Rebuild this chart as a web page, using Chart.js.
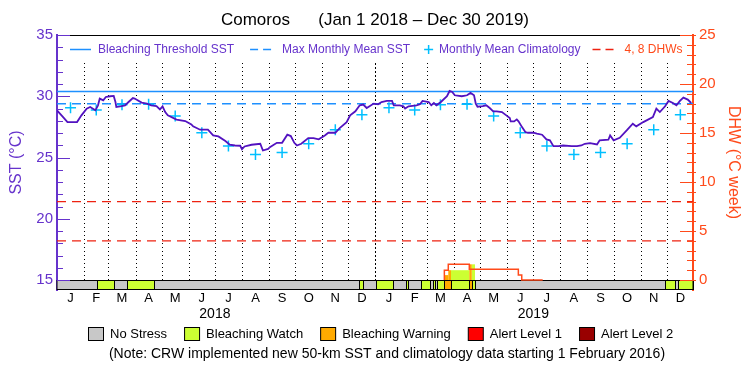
<!DOCTYPE html>
<html>
<head>
<meta charset="utf-8">
<script src="https://cdn.jsdelivr.net/npm/chart.js@4.4.0/dist/chart.umd.min.js"></script>
<style>
  html, body { margin: 0; padding: 0; background: #fff; }
</style>
</head>
<body>
<canvas id="crwChart" width="750" height="375"></canvas>
<script>
// days counted from Jan 1 2018
const sstDays = [0, 7, 12, 23, 28, 34, 38, 44, 47, 49, 53, 56, 61, 65, 67, 68, 74, 78, 82, 87, 89, 97, 103, 108, 114, 118,
  121, 124, 127, 137, 147, 154, 156, 164, 173, 179, 185, 193, 198, 204, 210, 212, 215, 223, 233, 236, 242,
  244, 252, 258, 264, 268, 272, 275, 280, 288, 294, 300, 307, 311, 319, 324, 332, 336, 342, 347, 351, 355, 363,
  368, 372, 378, 384, 386, 393, 397, 399, 403, 412, 416, 419, 426, 429, 432, 435, 440, 447, 450, 453, 456, 464, 470, 474, 478, 480, 482,
  488, 492, 496, 500, 504, 510, 515, 519, 520, 524, 527, 529, 533, 537, 540, 546, 550, 556, 561, 565, 569, 575, 580, 590, 596, 601,
  605, 611, 619, 622, 632, 634, 638, 645, 653, 660, 664, 672, 683, 687, 691, 697, 701, 706, 710, 714, 718, 723, 727];
const sstVals = [28.85, 28.30, 27.89, 27.89, 28.44, 28.99, 29.12, 28.85, 29.26, 29.81, 29.67, 29.94, 30.0, 30.03, 29.53, 29.12, 29.2, 29.26, 29.53, 29.86, 29.81, 29.48, 29.4, 29.26, 29.2, 28.93,
  29.18, 28.71, 28.44, 28.09, 27.98, 27.7, 27.54, 27.27, 27.27, 26.8, 26.72, 26.34, 26.04, 25.98, 25.96, 25.68, 25.9, 26.04, 26.12, 25.57, 25.7,
  25.84, 26.2, 26.2, 26.86, 26.75, 26.2, 25.98, 26.12, 26.58, 26.58, 26.48, 26.8, 27.02, 27.02, 27.4, 27.89, 28.44, 28.77, 29.26, 29.32, 29.04, 29.4,
  29.34, 29.53, 29.62, 29.62, 29.26, 29.26, 29.18, 28.99, 29.18, 29.26, 29.34, 29.62, 29.53, 29.26, 29.45, 29.26, 29.53, 30.0, 30.43, 30.35, 30.08, 30.0, 30.08, 30.27, 30.08, 29.4, 29.15,
  29.2, 29.26, 29.04, 28.77, 28.77, 28.71, 28.44, 28.22, 27.95, 27.95, 28.11, 27.95, 27.48, 27.07, 27.02, 27.02, 26.94, 26.86, 26.48, 26.4, 25.93, 25.93, 25.98, 25.93, 25.93, 25.98,
  26.12, 26.17, 26.07, 26.4, 26.45, 26.8, 26.4, 26.61, 27.21, 27.76, 27.54, 27.89, 28.3, 28.99, 28.71, 29.18, 29.62, 29.45, 29.26, 29.62, 29.89, 29.73, 29.45];

const monthStarts = [0, 31, 59, 90, 120, 151, 181, 212, 243, 273, 304, 334,
  365, 396, 424, 455, 485, 516, 546, 577, 608, 638, 669, 699, 730];
const monthLabels = ['J', 'F', 'M', 'A', 'M', 'J', 'J', 'A', 'S', 'O', 'N', 'D',
  'J', 'F', 'M', 'A', 'M', 'J', 'J', 'A', 'S', 'O', 'N', 'D'];
const yearTicks = [181, 546];
const yearLabels = ['2018', '2019'];

const climVals = [29.07, 28.88, 29.3, 29.35, 28.39, 27.02, 25.93, 25.25, 25.41, 26.12, 27.27, 28.5];
const mmm = 29.38;
const threshold = mmm + 1;
const dhwLevels = [4, 8];

const dhwDays = [444, 444, 448.5, 472.6, 528.8, 532.7, 556.7];
const dhwVals = [0, 0.5, 1.0, 1.6, 1.1, 0.5, 0];

const watchFrom = [45.5, 79.9, 346.5, 365.3, 399.7, 416.9, 430.7, 435.9, 451.6, 475.4, 697, 711.5];
const watchTo = [65.7, 111.5, 350.2, 385.5, 402.7, 427.6, 433.3, 444, 472.6, 479.1, 708.5, 729];
const warnFrom = [444, 472.6];
const warnTo = [451.6, 475.4];

const sstTicks = [15, 16, 17, 18, 19, 20, 21, 22, 23, 24, 25, 26, 27, 28, 29, 30, 31, 32, 33, 34, 35];
const dhwTicks = [0, 1, 2, 3, 4, 5, 6, 7, 8, 9, 10, 11, 12, 13, 14, 15, 16, 17, 18, 19, 20, 21, 22, 23, 24, 25];

const FONT = "'Liberation Sans', Arial, sans-serif";
const PURPLE = '#6633cc';
const LINEPURPLE = '#5212c0';
const ORANGE = '#ff4a1a';
const BLUE = '#1e90ff';
const CYAN = '#00bfff';
const GRAY = '#c8c8c8', GREEN = '#ccff33', AMBER = '#ffaa00', RED = '#ff0000', DARKRED = '#990000';

const monthMid = [];
for (let i = 0; i < monthStarts.length - 1; i++) monthMid.push((monthStarts[i] + monthStarts[i + 1]) / 2);
const climDays = monthMid;
const climAll = climVals.concat(climVals);

function pts(xs, ys) { return xs.map((d, i) => ({ x: d, y: ys[i] })); }

const stripPlugin = {
  id: 'strip',
  beforeDatasetsDraw(chart) {
    const { ctx, chartArea: a, scales } = chart;
    const xs = scales.x, ys = scales.ySST, yd = scales.yDHW;
    ctx.save();
    // dotted month lines
    const yTop = a.top + 28, yBot = ys.getPixelForValue(15);
    ctx.strokeStyle = '#000';
    ctx.lineWidth = 1;
    for (let i = 1; i < monthStarts.length - 1; i++) {
      const px = Math.round(xs.getPixelForValue(monthStarts[i])) + 0.5;
      ctx.setLineDash(monthStarts[i] === 365 ? [2, 2] : [1, 3]);
      ctx.beginPath(); ctx.moveTo(px, yTop); ctx.lineTo(px, yBot); ctx.stroke();
    }
    ctx.setLineDash([]);
    // fill under DHW during stress
    const fillDhw = (from, to, color) => {
      for (let i = 0; i < dhwDays.length - 1; i++) {
        const lo = Math.max(from, dhwDays[i]), hi = Math.min(to, dhwDays[i + 1]);
        if (hi <= lo || dhwVals[i] <= 0) continue;
        const x0 = xs.getPixelForValue(lo), x1 = xs.getPixelForValue(hi);
        const y0 = yd.getPixelForValue(0), y1 = yd.getPixelForValue(dhwVals[i]);
        ctx.fillStyle = color;
        ctx.fillRect(x0, y1, x1 - x0, y0 - y1);
      }
    };
    watchFrom.forEach((f, i) => fillDhw(f, watchTo[i], GREEN));
    warnFrom.forEach((f, i) => fillDhw(f, warnTo[i], AMBER));
    // stress strip
    const sTop = Math.round(ys.getPixelForValue(15)) + 0.5, sBot = Math.round(a.bottom) - 0.5;
    ctx.fillStyle = GRAY;
    ctx.fillRect(a.left, sTop, a.right - a.left, sBot - sTop);
    ctx.lineWidth = 1;
    ctx.strokeStyle = '#000';
    const seg = (f, t, color) => {
      const x0 = Math.round(xs.getPixelForValue(f)) + 0.5, x1 = Math.round(xs.getPixelForValue(t)) + 0.5;
      ctx.fillStyle = color;
      ctx.fillRect(x0, sTop, x1 - x0, sBot - sTop);
      ctx.strokeRect(x0, sTop, x1 - x0, sBot - sTop);
    };
    watchFrom.forEach((f, i) => seg(f, watchTo[i], GREEN));
    warnFrom.forEach((f, i) => seg(f, warnTo[i], AMBER));
    ctx.strokeRect(a.left, sTop, a.right - a.left, sBot - sTop);
    ctx.restore();
  },
  afterDatasetsDraw(chart) {
    const { ctx, chartArea: a, scales } = chart;
    ctx.save();
    // top frame
    ctx.strokeStyle = '#000'; ctx.lineWidth = 1;
    ctx.beginPath(); ctx.moveTo(a.left, Math.round(a.top) + 0.5); ctx.lineTo(a.right, Math.round(a.top) + 0.5); ctx.stroke();
    // inward tick marks
    ctx.strokeStyle = PURPLE;
    sstTicks.forEach(v => {
      const py = Math.round(scales.ySST.getPixelForValue(v)) + 0.5;
      const len = v % 5 === 0 ? 13 : 6;
      ctx.beginPath(); ctx.moveTo(a.left, py); ctx.lineTo(a.left + len, py); ctx.stroke();
    });
    ctx.strokeStyle = ORANGE;
    dhwTicks.forEach(v => {
      const py = Math.round(scales.yDHW.getPixelForValue(v)) + 0.5;
      const len = v % 5 === 0 ? 13 : 6;
      ctx.beginPath(); ctx.moveTo(a.right - len, py); ctx.lineTo(a.right + 3, py); ctx.stroke();
    });
    ctx.restore();
  },
  afterDraw(chart) {
    const { ctx, chartArea: a } = chart;
    ctx.save();
    ctx.textBaseline = 'middle';
    ctx.textAlign = 'left';
    // legend inside the plot
    ctx.font = '12px ' + FONT;
    let x = a.left + 13;
    const y = a.top + 14.5;
    ctx.lineWidth = 1.5;
    ctx.strokeStyle = BLUE;
    ctx.beginPath(); ctx.moveTo(x, y); ctx.lineTo(x + 21, y); ctx.stroke();
    x += 28;
    ctx.fillStyle = PURPLE;
    let t = 'Bleaching Threshold SST';
    ctx.fillText(t, x, y); x += ctx.measureText(t).width + 16;
    ctx.setLineDash([8, 5]);
    ctx.beginPath(); ctx.moveTo(x, y); ctx.lineTo(x + 26, y); ctx.stroke();
    ctx.setLineDash([]);
    x += 32;
    t = 'Max Monthly Mean SST';
    ctx.fillText(t, x, y); x += ctx.measureText(t).width + 14;
    ctx.strokeStyle = CYAN;
    ctx.beginPath(); ctx.moveTo(x, y); ctx.lineTo(x + 9, y); ctx.moveTo(x + 4.5, y - 4.5); ctx.lineTo(x + 4.5, y + 4.5); ctx.stroke();
    x += 15;
    t = 'Monthly Mean Climatology';
    ctx.fillText(t, x, y); x += ctx.measureText(t).width + 12;
    ctx.strokeStyle = '#ee2211';
    ctx.setLineDash([8, 5]);
    ctx.beginPath(); ctx.moveTo(x, y); ctx.lineTo(x + 26, y); ctx.stroke();
    ctx.setLineDash([]);
    x += 32;
    ctx.fillStyle = ORANGE;
    ctx.fillText('4, 8 DHWs', x, y);

    // stress legend below
    ctx.font = '13px ' + FONT;
    ctx.fillStyle = '#000';
    const items = [['No Stress', GRAY], ['Bleaching Watch', GREEN], ['Bleaching Warning', AMBER], ['Alert Level 1', RED], ['Alert Level 2', DARKRED]];
    let bx = 88;
    const by = 334;
    ctx.lineWidth = 1;
    ctx.strokeStyle = '#000';
    items.forEach(([label, color]) => {
      ctx.fillStyle = color;
      ctx.fillRect(bx + 0.5, by - 6.5, 15, 13);
      ctx.strokeRect(bx + 0.5, by - 6.5, 15, 13);
      ctx.fillStyle = '#000';
      ctx.fillText(label, bx + 22, by);
      bx += 22 + ctx.measureText(label).width + 17;
    });
    ctx.font = '14px ' + FONT;
    ctx.textAlign = 'center';
    ctx.fillText('(Note: CRW implemented new 50-km SST and climatology data starting 1 February 2016)', 387, 354);
    ctx.restore();
  }
};

new Chart('crwChart', {
  type: 'line',
  data: {
    datasets: [{
      data: pts(sstDays, sstVals),
      yAxisID: 'ySST',
      borderColor: LINEPURPLE,
      borderWidth: 1.8,
      pointRadius: 0
    }, {
      data: pts(climDays, climAll),
      yAxisID: 'ySST',
      showLine: false,
      pointStyle: 'cross',
      pointRadius: 5.5,
      pointBorderWidth: 1.5,
      borderColor: CYAN,
      backgroundColor: CYAN
    }, {
      data: pts([0, 729], [threshold, threshold]),
      yAxisID: 'ySST',
      borderColor: BLUE,
      borderWidth: 1.5,
      pointRadius: 0
    }, {
      data: pts([0, 729], [mmm, mmm]),
      yAxisID: 'ySST',
      borderColor: BLUE,
      borderWidth: 1.5,
      borderDash: [9, 6],
      pointRadius: 0
    }, {
      data: pts([0, 729], [dhwLevels[0], dhwLevels[0]]),
      yAxisID: 'yDHW',
      borderColor: '#ee2211',
      borderWidth: 1.2,
      borderDash: [9, 6],
      pointRadius: 0
    }, {
      data: pts([0, 729], [dhwLevels[1], dhwLevels[1]]),
      yAxisID: 'yDHW',
      borderColor: '#ee2211',
      borderWidth: 1.2,
      borderDash: [9, 6],
      pointRadius: 0
    }, {
      data: pts(dhwDays, dhwVals),
      yAxisID: 'yDHW',
      stepped: 'after',
      borderColor: ORANGE,
      borderWidth: 1.5,
      pointRadius: 0
    }]
  },
  options: {
    responsive: false,
    devicePixelRatio: 1,
    animation: false,
    layout: { padding: { left: 0, right: 0, top: 0, bottom: 51 } },
    plugins: {
      legend: { display: false },
      tooltip: { enabled: false },
      title: {
        display: true,
        text: 'Comoros      (Jan 1 2018 \u2013 Dec 30 2019)',
        color: '#000',
        font: { family: FONT, size: 17, weight: 'normal' },
        padding: { top: 10, bottom: 4.6 }
      }
    },
    scales: {
      x: {
        type: 'linear', position: 'bottom', min: 0, max: 729, weight: 0,
        afterBuildTicks: s => { s.ticks = monthMid.map(v => ({ value: v })); },
        afterFit: s => { s.height = 16; },
        grid: { display: false, drawTicks: false },
        border: { display: false },
        ticks: {
          autoSkip: false, maxRotation: 0, padding: 1, color: '#000',
          font: { family: FONT, size: 13 },
          callback: (v, i) => monthLabels[i]
        }
      },
      xYear: {
        type: 'linear', position: 'bottom', min: 0, max: 729, weight: 1,
        afterBuildTicks: s => { s.ticks = yearTicks.map(v => ({ value: v })); },
        afterFit: s => { s.height = 18; },
        grid: { display: false, drawTicks: false },
        border: { display: false },
        ticks: {
          autoSkip: false, maxRotation: 0, padding: 0, color: '#000',
          font: { family: FONT, size: 14 },
          callback: (v, i) => yearLabels[i]
        }
      },
      ySST: {
        type: 'linear', position: 'left', min: 14.184, max: 35,
        afterBuildTicks: s => { s.ticks = sstTicks.map(v => ({ value: v })); },
        afterFit: s => { s.width = 57; },
        grid: { display: false, drawTicks: false },
        border: { display: true, color: PURPLE, width: 2 },
        ticks: {
          autoSkip: false, padding: 4, color: PURPLE,
          font: { family: FONT, size: 15 },
          callback: v => (v % 5 === 0 ? v : '')
        },
        title: {
          display: true, text: 'SST (\u00b0C)', color: PURPLE,
          font: { family: FONT, size: 16 },
          padding: { top: 7, bottom: 0 }
        }
      },
      yDHW: {
        type: 'linear', position: 'right', min: -1.0204, max: 25,
        afterBuildTicks: s => { s.ticks = dhwTicks.map(v => ({ value: v })); },
        afterFit: s => { s.width = 57; },
        grid: { display: false, drawTicks: false },
        border: { display: true, color: ORANGE, width: 2 },
        ticks: {
          autoSkip: false, padding: 6, color: ORANGE,
          font: { family: FONT, size: 15 },
          callback: v => (v % 5 === 0 ? v : '')
        },
        title: {
          display: true, text: 'DHW (\u00b0C week)', color: ORANGE,
          font: { family: FONT, size: 16 },
          padding: { top: 7, bottom: 0 }
        }
      }
    }
  },
  plugins: [stripPlugin]
});
</script>
</body>
</html>
